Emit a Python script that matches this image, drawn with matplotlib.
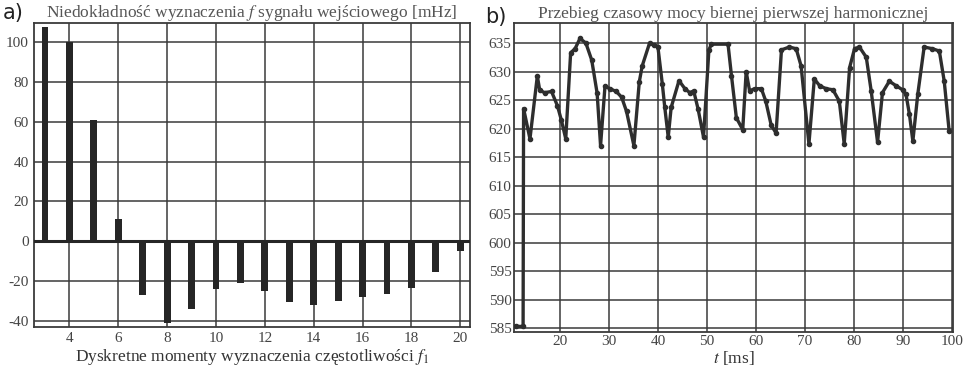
import numpy as np
import matplotlib.pyplot as plt

plt.rcParams['font.family'] = ['Liberation Serif', 'DejaVu Serif']
plt.rcParams['mathtext.fontset'] = 'stix'
plt.rcParams['axes.unicode_minus'] = False

# a) error of frequency estimate [mHz] at discrete moments
moments = [3, 4, 5, 6, 7, 8, 9, 10, 11, 12, 13, 14, 15, 16, 17, 18, 19, 20]
error_mhz = [107.5, 100, 61, 11, -27, -41, -34, -24, -21, -25, -30.5, -32, -30, -28, -26.5, -23.5, -15.5, -5]

# b) reactive power of first harmonic vs time
t_ms = [11.0, 12.5, 12.6, 13.9, 15.4, 15.9, 16.9, 18.3, 19.5, 20.3, 21.2, 22.2, 23.1, 24.1,
        25.3, 26.5, 27.6, 28.3, 29.2, 30.2, 31.5, 32.6, 33.6, 35.1, 36.2, 36.8, 38.3, 39.3,
        40.0, 40.9, 41.4, 42.1, 42.7, 44.3, 45.5, 46.5, 47.3, 48.2, 49.3, 50.4, 50.9, 54.3,
        55.0, 56.0, 57.3, 58.0, 58.7, 59.7, 61.1, 62.0, 63.1, 64.1, 65.2, 66.8, 68.2, 69.2,
        70.8, 71.9, 73.0, 74.3, 75.7, 77.0, 78.0, 79.1, 80.1, 81.1, 82.5, 83.5, 84.8, 85.8,
        87.2, 88.6, 89.9, 90.6, 91.3, 92.0, 93.0, 94.3, 96.0, 97.4, 98.4, 99.4]
q_var = [585.3, 585.3, 623.5, 618.2, 629.2, 626.7, 626.3, 626.5, 624.0, 621.5, 618.2, 633.3, 634.0, 635.8,
         635.0, 632.0, 626.2, 617.0, 627.4, 627.0, 626.5, 625.5, 623.0, 617.0, 628.2, 631.0, 635.0, 634.6,
         634.3, 627.8, 623.7, 618.5, 623.7, 628.4, 627.0, 626.3, 626.6, 623.4, 618.5, 633.8, 634.8, 634.8,
         629.3, 621.9, 619.8, 630.0, 626.6, 627.0, 627.0, 624.8, 620.6, 619.2, 633.8, 634.3, 634.0, 631.0,
         617.3, 628.7, 627.5, 627.0, 626.8, 624.8, 617.3, 630.7, 634.0, 634.3, 632.5, 626.6, 617.6, 626.3,
         628.3, 627.5, 626.8, 626.0, 622.5, 617.8, 626.0, 634.3, 634.0, 633.6, 628.3, 619.6]

grid_c = '#3a3a3a'
text_c = '#444444'

fig = plt.figure(figsize=(9.74, 3.69), dpi=100)

# ---- panel a
ax1 = fig.add_axes([0.035, 0.115, 0.4475, 0.824])
ax1.bar(moments, error_mhz, width=0.28, color='#262626', zorder=3)
ax1.axhline(0, color='#262626', lw=2.2, zorder=4)
ax1.set_xlim(2.55, 20.4)
ax1.set_ylim(-43, 110)
ax1.set_xticks(np.arange(4, 21, 2))
ax1.set_yticks(np.arange(-40, 101, 20))
ax1.grid(True, color=grid_c, lw=1.1, zorder=1)
ax1.tick_params(length=0, labelsize=11, labelcolor=text_c, pad=4)
ax1.set_xlabel(r'Dyskretne momenty wyznaczenia częstotliwości $f_1$', fontsize=12.5, color='#333333', labelpad=1)
ax1.set_title(r'Niedokładność wyznaczenia $f$ sygnału wejściowego [mHz]', fontsize=12.5, color='#555555', pad=3)
for s in ax1.spines.values():
    s.set_color(grid_c)
    s.set_linewidth(1.3)

# ---- panel b
ax2 = fig.add_axes([0.528, 0.1, 0.4505, 0.839])
ax2.plot(t_ms, q_var, color='#2e2e2e', lw=2.4, marker='o', markersize=3.0, zorder=3)
ax2.set_xlim(10.7, 100.2)
ax2.set_ylim(584.3, 638.6)
ax2.set_xticks(np.arange(20, 101, 10))
ax2.set_yticks(np.arange(585, 636, 5))
ax2.grid(True, color=grid_c, lw=1.1, zorder=1)
ax2.tick_params(length=0, labelsize=11, labelcolor=text_c, pad=2)
ax2.set_xlabel(r'$t$ [ms]', fontsize=12.5, color='#333333', labelpad=1)
ax2.set_title('Przebieg czasowy mocy biernej pierwszej harmonicznej', fontsize=12.5, color='#555555', pad=3)
for s in ax2.spines.values():
    s.set_color(grid_c)
    s.set_linewidth(1.3)

fig.text(0.003, 0.965, 'a)', fontsize=15, family='DejaVu Sans', color='#222222', va='center')
fig.text(0.498, 0.955, 'b)', fontsize=15, family='DejaVu Sans', color='#222222', va='center')

fig.savefig('out.png', dpi=100)
